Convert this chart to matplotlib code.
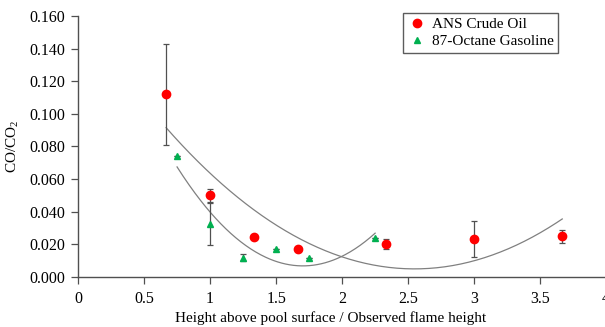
import numpy as np
import matplotlib
matplotlib.use('Agg')
import matplotlib.pyplot as plt
from matplotlib.ticker import FuncFormatter as formatter

# ANS crude oil
ans_x = [0.667, 1.0, 1.333, 1.667, 2.333, 3.0, 3.667]
ans_y = [0.112, 0.050, 0.0244, 0.0172, 0.020, 0.0232, 0.0250]
ans_err = [0.031, 0.004, 0.0, 0.0, 0.003, 0.011, 0.004]

# 87-octane gasoline
gas_x = [0.75, 1.0, 1.25, 1.5, 1.75, 2.25]
gas_y = [0.074, 0.0325, 0.0118, 0.017, 0.0118, 0.024]
gas_err = [0.0, 0.013, 0.002, 0.0, 0.0, 0.0]

plt.rcParams['font.family'] = ['Liberation Serif', 'DejaVu Serif']
plt.rcParams['mathtext.fontset'] = 'custom'
plt.rcParams['mathtext.rm'] = 'Liberation Serif'

fig = plt.figure(figsize=(6.05, 3.27), dpi=100, facecolor='white')
ax = fig.add_axes([0.129, 0.153, 0.873, 0.798])

grey = '#505050'

# Error bars then markers
ax.errorbar(ans_x, ans_y, yerr=ans_err, fmt='none', ecolor=grey, elinewidth=0.9,
            capsize=2.5, capthick=0.9, zorder=2)
ax.errorbar(gas_x, gas_y, yerr=gas_err, fmt='none', ecolor=grey, elinewidth=0.9,
            capsize=2.5, capthick=0.9, zorder=2)
ax.plot(ans_x, ans_y, 'o', color='#ff0000', markersize=6, linestyle='none',
        label='ANS Crude Oil', zorder=3)
ax.plot(gas_x, gas_y, '^', color='#00b050', markersize=5, linestyle='none',
        label='87-Octane Gasoline', zorder=3)

# Second order polynomial trendlines
for xs, ys in [(ans_x, ans_y), (gas_x, gas_y)]:
    coeffs = np.polyfit(xs, ys, 2)
    xx = np.linspace(min(xs), max(xs), 200)
    ax.plot(xx, np.polyval(coeffs, xx), color='#808080', linewidth=0.9, zorder=1)

ax.set_xlim(0, 4)
ax.set_ylim(0, 0.16)
ax.set_xticks(np.arange(0, 4.01, 0.5))
ax.set_yticks(np.arange(0, 0.161, 0.02))
ax.xaxis.set_major_formatter(formatter(lambda v, p: f'{v:g}'))
ax.yaxis.set_major_formatter(formatter(lambda v, p: f'{v:.3f}'))
ax.tick_params(axis='both', direction='out', length=5, width=0.9, color=grey,
               labelsize=11.5, pad=4)
ax.tick_params(axis='x', pad=5)

for side in ['top', 'right']:
    ax.spines[side].set_visible(False)
for side in ['left', 'bottom']:
    ax.spines[side].set_color(grey)
    ax.spines[side].set_linewidth(1.0)

ax.set_xlabel('Height above pool surface / Observed flame height', fontsize=11, labelpad=2)
ax.xaxis.set_label_coords(0.479, -0.13)
ax.set_ylabel('CO/CO$_2$', fontsize=11, labelpad=6)

leg = ax.legend(loc='upper left', bbox_to_anchor=(0.615, 1.012), fontsize=11,
                frameon=True, fancybox=False, edgecolor='#333333', handletextpad=0.3,
                borderpad=0.3, labelspacing=0.2, handlelength=1.3, borderaxespad=0.0)
leg.get_frame().set_linewidth(1.0)

fig.savefig('out.png', dpi=100)
